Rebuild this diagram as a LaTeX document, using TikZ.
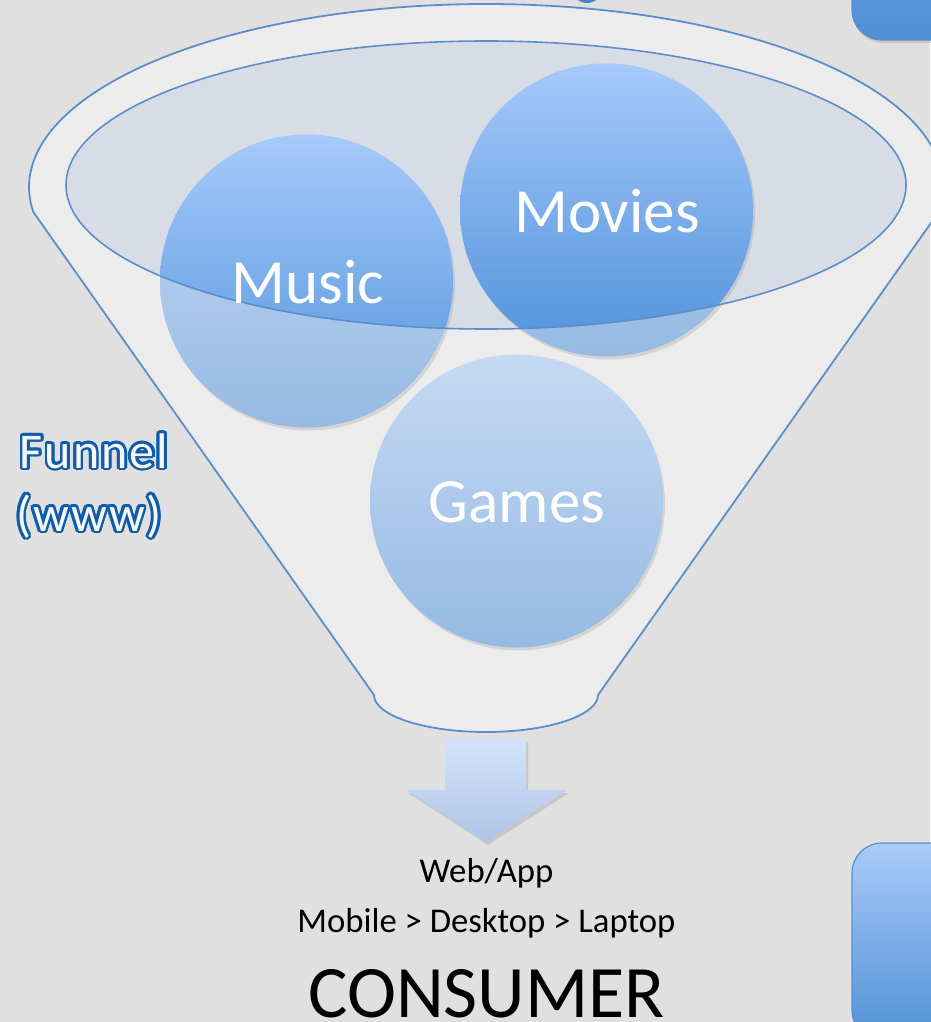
\documentclass[tikz,border=0pt]{standalone}
\usepackage{fontspec}
\setmainfont{Carlito}
\usetikzlibrary{shadows}
\definecolor{bgc}{HTML}{E0E0E0}
\definecolor{bodyc}{HTML}{ECECEC}
\definecolor{innerc}{HTML}{D8DCE4}
\definecolor{linec}{HTML}{5B8FCC}
\definecolor{ctop}{HTML}{A6CAFA}
\definecolor{cbot}{HTML}{5091DB}
\colorlet{ftop}{ctop!55!bodyc}
\colorlet{fbot}{cbot!55!bodyc}
\definecolor{atop}{HTML}{D3E3FB}
\definecolor{abot}{HTML}{AFC5E6}
\definecolor{boxtop}{HTML}{A9CBFA}
\definecolor{boxbot}{HTML}{5190D6}
\definecolor{boxline}{HTML}{5A8FCB}
\definecolor{lblblue}{HTML}{0F5CAD}
\definecolor{lblfill}{HTML}{F8F8F2}
\begin{document}
\begin{tikzpicture}[x=1pt,y=-1pt,
  bubble/.style={circle, inner sep=0pt, minimum size=293pt, draw=none},
  fadedbubble/.style={bubble, top color=ftop, bottom color=fbot,
     drop shadow={opacity=0.22, shadow xshift=2pt, shadow yshift=-3pt}},
  fullbubble/.style={bubble, top color=ctop, bottom color=cbot},
  ctext/.style={text=white, font=\fontsize{63}{70}\selectfont, anchor=base, inner sep=0pt},
  lbl/.style={font=\fontsize{50}{56}\selectfont\addfontfeature{LetterSpace=4}, anchor=base, inner sep=0pt},
  btext/.style={text=black, font=\fontsize{34.7}{40}\selectfont, anchor=base, inner sep=0pt},
  bluebox/.style={top color=boxtop, bottom color=boxbot, draw=boxline, line width=1.2pt,
     rounded corners=30pt, drop shadow={opacity=0.25, shadow xshift=1pt, shadow yshift=-3pt}}]
\useasboundingbox (0,0) rectangle (930,1022);
\fill[bgc] (0,0) rectangle (930,1022);

% partial shapes at the edges
\fill[boxbot!90!black] (587,-12) circle (15pt);
\path[bluebox, top color=boxbot!70!boxtop] (852,-150) rectangle (1000,40);
\path[bluebox] (852,843) rectangle (1000,1040);

% funnel body
\path[fill=bodyc, draw=linec, line width=1.8pt, line join=round]
  (938.7,212) arc[start angle=-7.85, end angle=187.85, x radius=457pt, y radius=183pt]
  -- (374,695) arc[start angle=180, end angle=360, x radius=112pt, y radius=37pt] -- cycle;

% funnel opening
\fill[innerc] (486,185) ellipse [x radius=420pt, y radius=144pt];

% circles, faded outside the opening
\node[fadedbubble] (music) at (306.5,281) {};
\node[fadedbubble] (movies) at (606.5,210) {};
\node[fadedbubble] (games) at (516.5,501) {};

% circles, full colour inside the opening
\begin{scope}
  \clip (486,185) ellipse [x radius=420pt, y radius=144pt];
  \node[fullbubble] (musicin) at (306.5,281) {};
  \node[fullbubble] (moviesin) at (606.5,210) {};
\end{scope}

% opening rim
\draw[linec, line width=1.6pt] (486,185) ellipse [x radius=420pt, y radius=144pt];

% circle labels
\node[ctext] (musiclbl) at (308,303) {Music};
\node[ctext] (movieslbl) at (607,232) {Movies};
\node[ctext] (gameslbl) at (517,522) {Games};

% outlined label
\foreach \a [count=\i] in {0,22.5,...,337.5} {
  \node[lbl, text=lblblue, shift={(\a:2.8pt)}] (fo\i) at (94,468) {Funnel};
  \node[lbl, text=lblblue, shift={(\a:2.8pt)}] (wo\i) at (89,531) {(www)};
}
\node[lbl, text=lblfill] (funnel) at (94,468) {Funnel};
\node[lbl, text=lblfill] (www) at (89,531) {(www)};

% down arrow
\path[top color=atop, bottom color=abot,
      drop shadow={opacity=0.25, shadow xshift=2pt, shadow yshift=-3pt}]
  (445,739) -- (526,739) -- (526,790) -- (567,790) -- (486,842) -- (406,790) -- (445,790) -- cycle;

% bottom texts
\node[btext] (webapp) at (486.5,882) {Web/App};
\node[btext] (devices) at (486.5,932) {Mobile > Desktop > Laptop};
\node[btext, font=\fontsize{74}{80}\selectfont] (consumer) at (486.5,1017) {CONSUMER};
\end{tikzpicture}
\end{document}
